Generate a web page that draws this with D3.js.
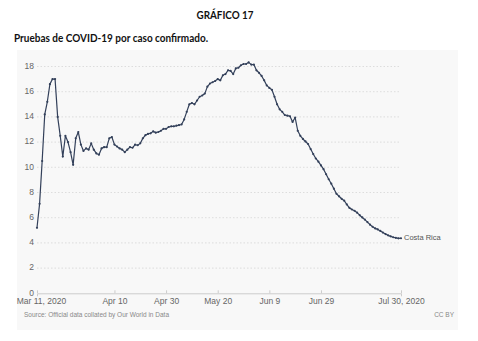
<!DOCTYPE html>
<html>
<head>
<meta charset="utf-8">
<script src="https://cdn.jsdelivr.net/npm/d3@7/dist/d3.min.js"></script>
<style>
  html, body { margin: 0; padding: 0; background: #fff; }
  svg { display: block; }
</style>
</head>
<body>
<svg id="chart" width="478" height="341"></svg>
<script>
// ---- Data ----
const startDate = "2020-03-11";
const seriesName = "Costa Rica";
const testsPerCase = [
  5.2, 7.1, 10.5, 14.2, 15.2, 16.6, 17.0, 17.0, 14.0, 12.5,
  10.85, 12.5, 12.0, 11.2, 10.2, 12.3, 12.8, 11.8, 11.3, 11.5,
  11.4, 11.9, 11.4, 11.1, 11.0, 11.5, 11.6, 11.6, 12.3, 12.4,
  11.8, 11.65, 11.5, 11.4, 11.2, 11.4, 11.6, 11.55, 11.8, 11.75,
  11.9, 12.3, 12.55, 12.65, 12.7, 12.85, 12.75, 12.8, 12.9, 13.05,
  13.05, 13.2, 13.25, 13.25, 13.3, 13.35, 13.4, 13.8, 14.4, 15.0,
  15.1, 15.0, 15.3, 15.6, 15.7, 15.85, 16.4, 16.65, 16.75, 16.85,
  17.0, 16.9, 17.3, 17.4, 17.7, 17.65, 17.4, 17.85, 17.9, 18.1,
  18.2, 18.2, 18.33, 18.15, 18.15, 17.7, 17.5, 17.25, 16.9, 16.5,
  16.3, 16.15, 15.6, 15.0, 14.6, 14.4, 14.15, 14.1, 14.05, 13.6,
  13.95, 12.9, 12.5, 12.25, 12.05, 11.85, 11.45, 11.05, 10.7, 10.45,
  10.15, 9.85, 9.45, 9.05, 8.7, 8.3, 7.9, 7.7, 7.5, 7.35,
  7.05, 6.78, 6.65, 6.55, 6.4, 6.2, 6.02, 5.85, 5.65, 5.45,
  5.28, 5.15, 5.07, 4.95, 4.82, 4.7, 4.6, 4.52, 4.45, 4.4,
  4.36, 4.37
];
const yTicks = [0, 2, 4, 6, 8, 10, 12, 14, 16, 18];
const xTickDates = ["2020-03-11", "2020-04-10", "2020-04-30", "2020-05-20", "2020-06-09", "2020-06-29", "2020-07-30"];
const xTickLabels = ["Mar 11, 2020", "Apr 10", "Apr 30", "May 20", "Jun 9", "Jun 29", "Jul 30, 2020"];
const titleText = "GRÁFICO 17";
const subtitleText = "Pruebas de COVID-19 por caso confirmado.";
const sourceText = "Source: Official data collated by Our World in Data";
const licenseText = "CC BY";

// ---- Build ----
const parse = d3.utcParse("%Y-%m-%d");
const t0 = parse(startDate);
const data = testsPerCase.map((v, i) => ({ date: d3.utcDay.offset(t0, i), value: v }));

const svg = d3.select("#chart");
const chartFont = "'Liberation Sans', Arial, sans-serif";

// Title & subtitle
svg.append("text")
  .attr("x", 225).attr("y", 16)
  .attr("text-anchor", "middle").attr("dominant-baseline", "middle")
  .attr("font-family", "Lato, 'Open Sans', sans-serif").attr("font-weight", "bold")
  .attr("font-size", 12).attr("fill", "#111")
  .attr("textLength", 57).attr("lengthAdjust", "spacingAndGlyphs")
  .text(titleText);

svg.append("text")
  .attr("x", 14).attr("y", 39.5)
  .attr("dominant-baseline", "middle")
  .attr("font-family", "Lato, 'Open Sans', sans-serif").attr("font-weight", "bold")
  .attr("font-size", 11.5).attr("fill", "#111")
  .attr("textLength", 194).attr("lengthAdjust", "spacingAndGlyphs")
  .text(subtitleText);

// Panel
svg.append("rect")
  .attr("x", 17).attr("y", 50).attr("width", 441).attr("height", 280)
  .attr("fill", "#f8f8f8");

const x = d3.scaleUtc()
  .domain([t0, d3.utcDay.offset(t0, testsPerCase.length - 1)])
  .range([37, 401]);
const y = d3.scaleLinear().domain([0, 18]).range([293.3, 66.5]);

// Gridlines
svg.append("g")
  .selectAll("line")
  .data(yTicks.filter(d => d > 0))
  .join("line")
  .attr("x1", 37).attr("x2", 401)
  .attr("y1", d => y(d)).attr("y2", d => y(d))
  .attr("stroke", "#d6d6d6").attr("stroke-width", 0.8)
  .attr("stroke-dasharray", "1.5,2");

// Y labels
svg.append("g")
  .selectAll("text")
  .data(yTicks)
  .join("text")
  .attr("x", 34).attr("y", d => y(d))
  .attr("text-anchor", "end").attr("dominant-baseline", "middle")
  .attr("font-family", chartFont).attr("font-size", 8.5).attr("fill", "#666")
  .text(d => d);

// X axis
const xAxis = d3.axisBottom(x)
  .tickValues(xTickDates.map(parse))
  .tickSize(3)
  .tickFormat((d, i) => xTickLabels[i]);
const gx = svg.append("g").attr("transform", `translate(0,${y(0)})`).call(xAxis);
gx.select(".domain").attr("stroke", "#ccc");
gx.selectAll(".tick line").attr("stroke", "#ccc").attr("y2", -3);
gx.selectAll(".tick text")
  .attr("font-family", chartFont).attr("font-size", 8.5).attr("fill", "#666")
  .attr("y", 5);
gx.selectAll(".tick text").filter((d, i) => i === 0).attr("dx", 4);

// Line
const line = d3.line().x(d => x(d.date)).y(d => y(d.value));
svg.append("path")
  .datum(data)
  .attr("d", line)
  .attr("fill", "none").attr("stroke", "#33405a").attr("stroke-width", 1.2)
  .attr("stroke-linejoin", "round");

svg.append("g")
  .selectAll("circle")
  .data(data)
  .join("circle")
  .attr("cx", d => x(d.date)).attr("cy", d => y(d.value))
  .attr("r", 1.1).attr("fill", "#33405a");

// Series label
const last = data[data.length - 1];
svg.append("text")
  .attr("x", x(last.date) + 3).attr("y", y(last.value))
  .attr("dominant-baseline", "middle")
  .attr("font-family", chartFont).attr("font-size", 7.5).attr("fill", "#555")
  .text(seriesName);

// Footer
svg.append("text")
  .attr("x", 24).attr("y", 315.5)
  .attr("dominant-baseline", "middle")
  .attr("font-family", chartFont).attr("font-size", 6.5).attr("fill", "#888")
  .text(sourceText);
svg.append("text")
  .attr("x", 454).attr("y", 315)
  .attr("text-anchor", "end").attr("dominant-baseline", "middle")
  .attr("font-family", chartFont).attr("font-size", 6.5).attr("fill", "#888")
  .text(licenseText);
</script>
</body>
</html>
